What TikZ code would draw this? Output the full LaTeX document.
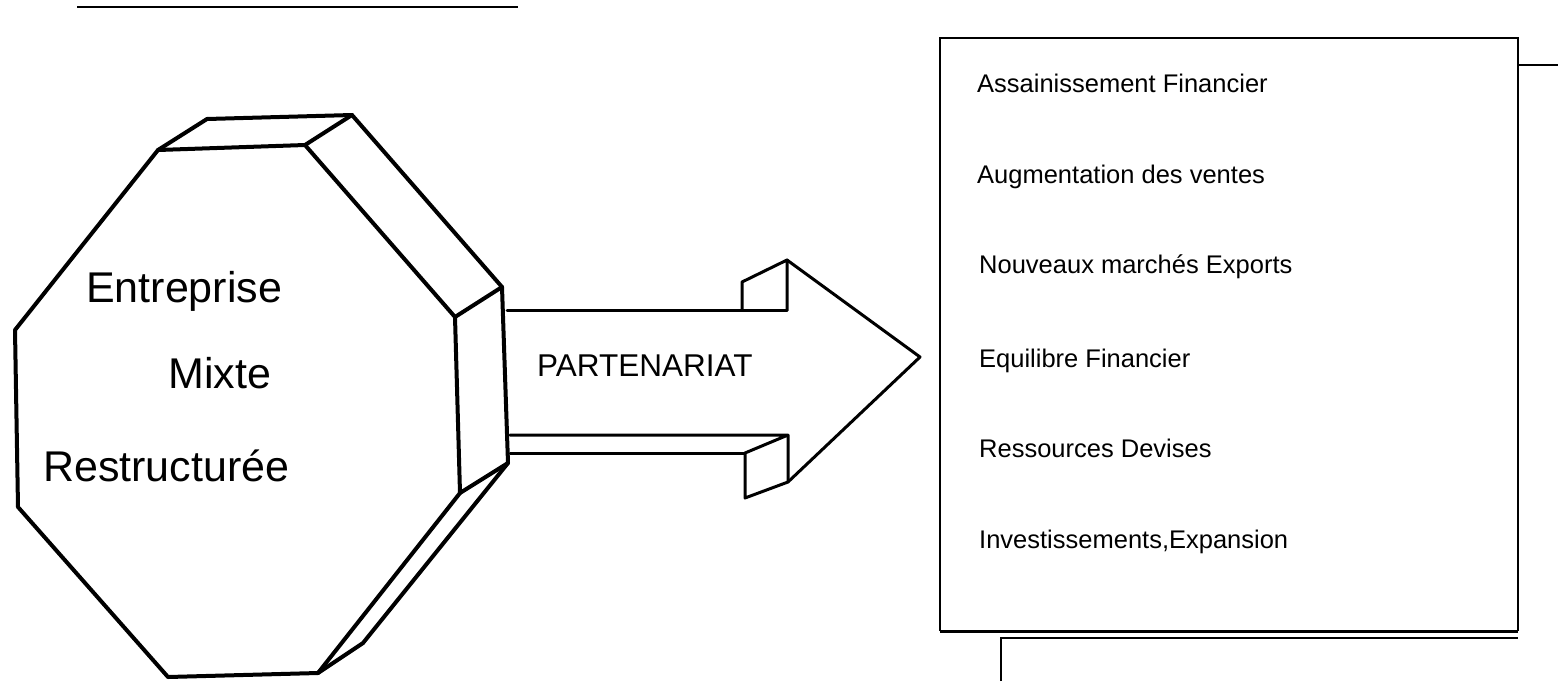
\documentclass[tikz,border=0pt]{standalone}
\usepackage{fontspec}
\setmainfont{Liberation Sans}
\begin{document}
\begin{tikzpicture}[x=1pt,y=-1pt,
  prism/.style={line width=4pt, line join=round, line cap=round},
  shaft/.style={line width=3pt, line join=round, line cap=round},
  sheet/.style={line width=2pt, line join=miter},
  heavy/.style={line width=3pt},
  octtext/.style={anchor=base west, inner sep=0pt, font=\fontsize{43}{43}\selectfont},
  arrowtext/.style={anchor=base west, inner sep=0pt, font=\fontsize{31.5}{31.5}\selectfont},
  itemtext/.style={anchor=base west, inner sep=0pt, font=\fontsize{25.5}{25.5}\selectfont}]
\useasboundingbox (0,0) rectangle (1558,681);

% rule at the top left
\coordinate (r1) at (77,7);
\coordinate (r2) at (518,7);
\draw[line width=2.5pt] (r1) -- (r2);

% octagonal prism: front face
\coordinate (tl) at (158,150);
\coordinate (tr) at (305,145);
\coordinate (ru) at (455,317);
\coordinate (rl) at (460,493);
\coordinate (br) at (318,673);
\coordinate (bl) at (168,677);
\coordinate (ll) at (18,507);
\coordinate (lu) at (15,330);
% back edges
\coordinate (tlb) at (207,119);
\coordinate (trb) at (352,115);
\coordinate (rub) at (502,287);
\coordinate (rlb) at (508,463);
\coordinate (brb) at (363,643);

\draw[prism, fill=white] (tl) -- (tr) -- (ru) -- (rl) -- (br) -- (bl) -- (ll) -- (lu) -- cycle;
\draw[prism] (tl) -- (tlb) -- (trb) -- (rub) -- (rlb) -- (brb) -- (br);
\draw[prism] (tr) -- (trb);
\draw[prism] (ru) -- (rub);
\draw[prism] (rl) -- (rlb);

\node[octtext] (ent) at (86,302) {Entreprise};
\node[octtext] (mix) at (168,388) {Mixte};
\node[octtext] (res) at (43,481) {Restructurée};

% block arrow
\coordinate (s1) at (507,310);
\coordinate (s2) at (742,310);
\coordinate (s3) at (742,282);
\coordinate (s4) at (787,260);
\coordinate (s5) at (787,310);
\coordinate (tip) at (920,357);
\coordinate (h1) at (788,482);
\coordinate (h2) at (788,435);
\coordinate (b1) at (510,435);
\coordinate (b2) at (510,453);
\coordinate (b3) at (745,453);
\coordinate (b4) at (745,498);

\draw[shaft] (s1) -- (s5);
\draw[shaft] (s2) -- (s3) -- (s4) -- (s5);
\draw[shaft] (s4) -- (tip) -- (h1);
\draw[shaft] (b1) -- (h2) -- (h1) -- (b4) -- (b3) -- (h2);
\draw[shaft] (b2) -- (b3);

\node[arrowtext] (part) at (537,376) {PARTENARIAT};

% list of results
\coordinate (bx1) at (940,38);
\coordinate (bx2) at (1518,38);
\coordinate (bx3) at (1518,631);
\coordinate (bx4) at (940,631);
\draw[sheet] (bx4) -- (bx1) -- (bx2) -- (bx3);
\draw[heavy] (bx4) -- (bx3);
% sheets behind
\coordinate (p1) at (1518,65);
\coordinate (p2) at (1558,65);
\draw[sheet] (p1) -- (p2);
\coordinate (q1) at (1001,681);
\coordinate (q2) at (1001,638);
\coordinate (q3) at (1518,638);
\draw[sheet] (q1) -- (q2) -- (q3);

\node[itemtext] (i1) at (977,92) {Assainissement Financier};
\node[itemtext] (i2) at (977,183) {Augmentation des ventes};
\node[itemtext] (i3) at (979,273) {Nouveaux marchés Exports};
\node[itemtext] (i4) at (979,367) {Equilibre Financier};
\node[itemtext] (i5) at (979,457) {Ressources Devises};
\node[itemtext] (i6) at (979,548) {Investissements,Expansion};
\end{tikzpicture}
\end{document}
